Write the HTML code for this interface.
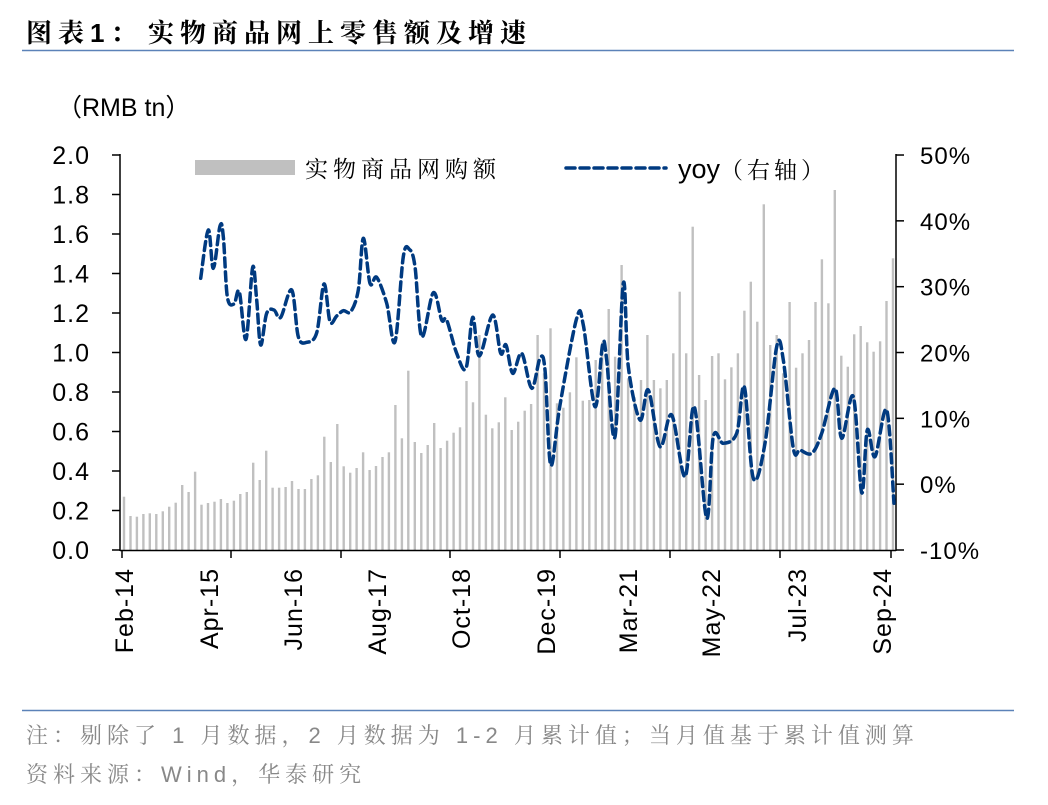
<!DOCTYPE html>
<html><head><meta charset="utf-8">
<style>
html,body{margin:0;padding:0;background:#fff;}
body{width:1048px;height:800px;overflow:hidden;}
svg text{font-family:"Liberation Sans","Noto Sans CJK SC",sans-serif;}
</style></head>
<body>
<svg id="s" width="1048" height="800" viewBox="0 0 1048 800" xmlns="http://www.w3.org/2000/svg">
<text x="26" y="42" font-size="26" font-weight="bold" fill="#000" letter-spacing="6" style="font-family:'Liberation Sans','Noto Serif CJK SC',serif">图表1：<tspan x="148">实物商品网上零售额及增速</tspan></text>
<line x1="22" y1="50.5" x2="1014" y2="50.5" stroke="#5b82b8" stroke-width="1.5"/>
<text x="57" y="116" font-size="25" fill="#000">（RMB tn）</text>
<g id="bars" fill="#c0c0c0"></g>
<g id="axes" stroke="#000" stroke-width="1.5" fill="none">
<line x1="120" y1="154" x2="120" y2="551"/>
<line x1="896" y1="154" x2="896" y2="551"/>
<line x1="120" y1="550.5" x2="896" y2="550.5"/>
</g>
<g id="ticks" stroke="#000" stroke-width="1.5"></g>
<g id="lbl" font-size="25" fill="#000" letter-spacing="1"></g>
<path id="yoy" fill="none" stroke="#003a80" stroke-width="3.5" stroke-dasharray="9,5" stroke-linecap="round"/>
<rect x="195" y="160" width="100" height="15" fill="#c0c0c0"/>
<text x="305" y="177" font-size="23" fill="#000" letter-spacing="5" style="font-family:'Noto Serif CJK SC',serif">实物商品网购额</text>
<line x1="566" y1="168" x2="666" y2="168" stroke="#003a80" stroke-width="3.5" stroke-dasharray="9,5" stroke-linecap="round"/>
<text x="678" y="178" font-size="27" fill="#000">yoy<tspan style="font-family:'Noto Serif CJK SC',serif" font-size="23" letter-spacing="4">（右轴）</tspan></text>
<line x1="22" y1="710.5" x2="1014" y2="710.5" stroke="#5b82b8" stroke-width="1.5"/>
<text x="26" y="743" font-size="22" fill="#888" letter-spacing="5" style="font-family:'Liberation Sans','Noto Serif CJK SC',serif">注：剔除了 1 月数据，2 月数据为 1-2 月累计值；当月值基于累计值测算</text>
<text x="26" y="782" font-size="22" fill="#888" letter-spacing="5" style="font-family:'Liberation Sans','Noto Serif CJK SC',serif">资料来源：Wind，华泰研究</text>
</svg>
<script>
var NS="http://www.w3.org/2000/svg";
function el(p,t,a,txt){var e=document.createElementNS(NS,t);for(var k in a)e.setAttribute(k,a[k]);if(txt!=null)e.textContent=txt;p.appendChild(e);return e;}
var z=[1070,1128,1130,1122,1120,1122,1114,1100,1088,1035,1056,995,1094,1089,1085,1077,1089,1082,1062,1056,968,1020,932,1043,1043,1041,1023,1047,1047,1017,1006,890,966,852,979,998,984,937,990,978,951,937,795,895,692,906,939,915,849,924,902,878,862,723,787,585,824,865,847,772,
870,845,812,792,585,700,565,790,803,757,652,782,780,660,607,507,650,375,715,772,720,585,720,745,720,640,455,640,260,705,780,648,640,718,682,640,512,425,545,193,615,585,700,486,683,640,600,486,358,490,150,647,680,583,558,607,635,604,483,355];
var bars=document.getElementById('bars');
var n=z.length, dx=(893-124)/(n-1);
for(var i=0;i<n;i++){var y=140+z[i]/3;var x=124+dx*i;el(bars,'rect',{x:(x-1.2).toFixed(1),y:y.toFixed(1),width:2.4,height:(550-y).toFixed(1)});}
var tk=document.getElementById('ticks'),lb=document.getElementById('lbl');
for(var j=0;j<=10;j++){var y=550-j*39.5;el(tk,'line',{x1:112,y1:y,x2:120,y2:y});
 el(lb,'text',{x:90,y:y+9,'text-anchor':'end'},(j*0.2).toFixed(1));}
for(var j=0;j<=6;j++){var y=550-j*65.83;el(tk,'line',{x1:896,y1:y,x2:904,y2:y});
 el(lb,'text',{x:920,y:y+9,'font-size':24},(j*10-10)+'%');}
[122,231,341,450,560,670,780,891].forEach(function(x){el(tk,'line',{x1:x,y1:550,x2:x,y2:558});});
var labs=[["Feb-14",124],["Apr-15",209],["Jun-16",293],["Aug-17",377],["Oct-18",461],["Dec-19",546],["Mar-21",628],["May-22",711],["Jul-23",797],["Sep-24",882]];
labs.forEach(function(l){el(lb,'text',{x:0,y:0,'text-anchor':'end',transform:'translate('+(l[1]+9)+',568) rotate(-90)'},l[0]);});
var p1=[[272,415],[295,270],[310,385],[330,258],[340,290],[352,470],[372,492],[388,455],[408,598],[428,382],[440,480],[452,615],[470,520],[492,510],[512,532],[545,450],[565,590],[590,607],[620,578],[642,432],[660,545],[680,528],[700,512],[722,515],[745,450],[760,295],[780,430],[800,412],[830,490],[855,605],[880,350],[898,328],[915,380],[935,590],[970,458],[995,540],[1010,540],[1040,640],[1068,685],[1088,532],[1108,648],[1148,525],[1172,640],[1188,615]];
var p2=[[38,700],[65,640],[95,745],[120,655],[135,690],[152,975],[180,795],[230,535],[250,555],[285,800],[308,612],[320,660],[345,890],[370,430],[385,680],[420,840],[445,750],[480,920],[515,825],[555,1010],[583,800],[620,1135],[640,890],[670,910],[710,880],[733,740],[760,1015],[795,910],[830,620],[850,660],[880,925],[900,930],[935,940],[965,880],[1005,745],[1025,895],[1060,770],[1085,1058],[1102,870],[1125,950],[1160,810],[1182,1090]];
var pts=p1.map(function(p){return [110+p[0]/3,140+p[1]/3];}).concat(p2.map(function(p){return [500+p[0]/3,140+p[1]/3];}));
var d='M'+pts[0][0].toFixed(1)+','+pts[0][1].toFixed(1);
for(var i=0;i<pts.length-1;i++){var p0=pts[Math.max(0,i-1)],a=pts[i],b=pts[i+1],c=pts[Math.min(pts.length-1,i+2)];
 var c1=[a[0]+(b[0]-p0[0])/6,a[1]+(b[1]-p0[1])/6],c2=[b[0]-(c[0]-a[0])/6,b[1]-(c[1]-a[1])/6];
 d+=' C'+c1[0].toFixed(1)+','+c1[1].toFixed(1)+' '+c2[0].toFixed(1)+','+c2[1].toFixed(1)+' '+b[0].toFixed(1)+','+b[1].toFixed(1);}
document.getElementById('yoy').setAttribute('d',d);
</script>
</body></html>
